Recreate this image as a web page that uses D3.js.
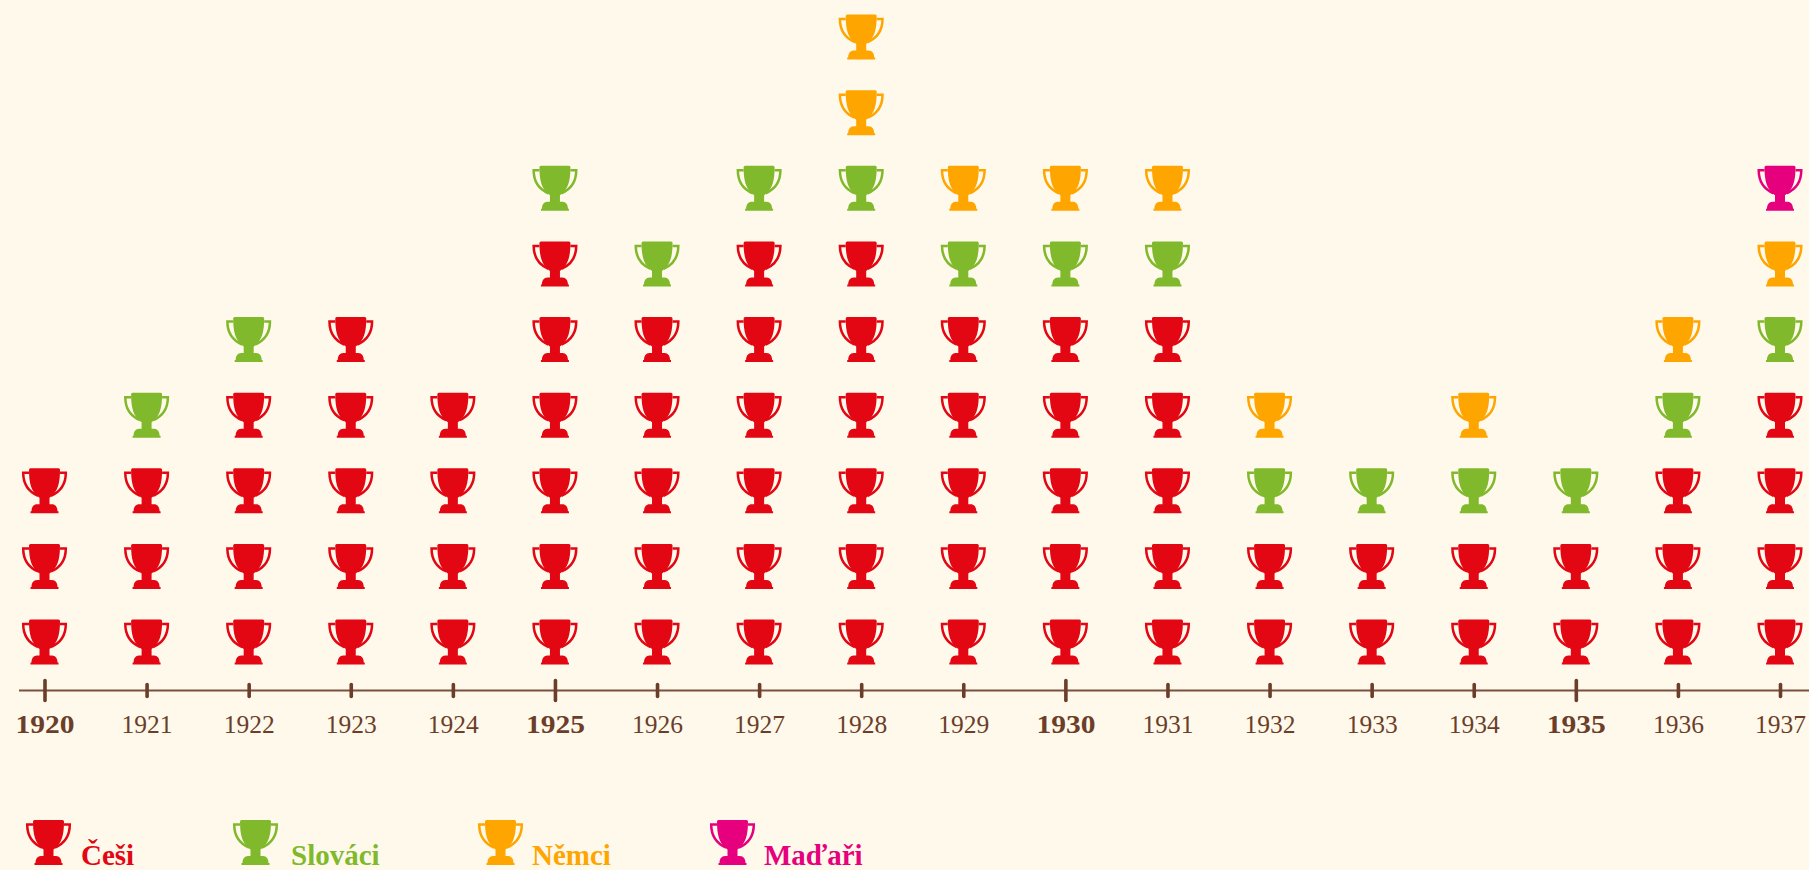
<!DOCTYPE html>
<html lang="cs">
<head>
<meta charset="utf-8">
<title>Poháry</title>
<script src="https://cdn.jsdelivr.net/npm/d3@7"></script>
<style>
  html, body { margin: 0; padding: 0; background: #fff9eb; overflow: hidden; }
  svg { display: block; }
  text { font-family: "Liberation Serif", serif; }
</style>
</head>
<body>
<div id="chart"></div>
<script>
var years   = [1920,1921,1922,1923,1924,1925,1926,1927,1928,1929,1930,1931,1932,1933,1934,1935,1936,1937];
var cesi    = [3,3,4,5,4,6,5,6,6,5,5,5,2,2,2,2,3,4];
var slovaci = [0,1,1,0,0,1,1,1,1,1,1,1,1,1,1,1,1,1];
var nemci   = [0,0,0,0,0,0,0,0,2,1,1,1,1,0,1,0,1,1];
var madari  = [0,0,0,0,0,0,0,0,0,0,0,0,0,0,0,0,0,1];

var groupNames  = ['Češi','Slováci','Němci','Maďaři'];
var groupValues = [cesi, slovaci, nemci, madari];
var groupColors = ['#e30613','#80b92b','#ffa500','#e6007e'];

var width = 1809;
var height = 870;
var brown = '#6b3e2a';
var cup = 45;

var x = d3.scaleLinear().domain([1920, 1937]).range([44.5, 1780]);
var y = d3.scaleLinear().domain([0, 8]).range([642, 37]);

var svg = d3.select('#chart')
    .append('svg')
    .attr('width', width)
    .attr('height', height);

// trophy, drawn in a 45 x 45 box
var trophy = svg.append('defs').append('symbol')
    .attr('id', 'trophy')
    .attr('viewBox', '0 0 45 45')
    .attr('overflow', 'visible');
trophy.append('path')
    .attr('d', 'M8.5 0H36.5Q38 0 38 1.5C38 14 36 24 27.5 29.5V36H30C33.5 36 35.5 39 35.5 43H36.5V45H8.5V43H9.5C9.5 39 11.5 36 15 36H17.5V29.5C9 24 7 14 7 1.5Q7 0 8.5 0Z')
    .attr('fill', 'currentColor');
trophy.append('path')
    .attr('d', 'M7 4.5H1.2C1.2 15 5.5 23 16 27.5M38 4.5H43.8C43.8 15 39.5 23 29 27.5')
    .attr('fill', 'none')
    .attr('stroke', 'currentColor')
    .attr('stroke-width', 2.5);

// stack of cups per year
var stacks = [];
years.forEach(function(year, i) {
  var level = 0;
  groupValues.forEach(function(values, g) {
    d3.range(values[i]).forEach(function() {
      stacks.push({ year: year, level: level, color: groupColors[g] });
      level += 1;
    });
  });
});

svg.append('g')
    .selectAll('use')
    .data(stacks)
    .enter()
    .append('use')
    .attr('href', '#trophy')
    .attr('width', cup)
    .attr('height', cup)
    .attr('x', function(d) { return x(d.year) - cup / 2; })
    .attr('y', function(d) { return y(d.level) - cup / 2; })
    .style('color', function(d) { return d.color; });

// axis
var axis = d3.axisBottom(x)
    .tickValues(years)
    .tickFormat(d3.format('d'))
    .tickSize(0)
    .tickPadding(24.5);

var axisG = svg.append('g')
    .attr('transform', 'translate(0, 690.5)')
    .call(axis);

axisG.select('.domain').remove();
axisG.append('line')
    .attr('x1', 19)
    .attr('x2', width)
    .attr('stroke', brown)
    .attr('stroke-opacity', 0.9)
    .attr('stroke-width', 2);

axisG.selectAll('.tick line')
    .attr('y1', function(d) { return d % 5 === 0 ? -10 : -6; })
    .attr('y2', function(d) { return d % 5 === 0 ? 10 : 6; })
    .attr('stroke', brown)
    .attr('stroke-width', 3.6)
    .attr('stroke-linecap', 'round');

axisG.selectAll('.tick text')
    .attr('fill', brown)
    .attr('font-family', '"Liberation Serif", serif')
    .attr('font-size', 25.5)
    .attr('font-weight', function(d) { return d % 5 === 0 ? 700 : 400; })
    .filter(function(d) { return d % 5 === 0; })
    .attr('textLength', 59)
    .attr('lengthAdjust', 'spacingAndGlyphs');

// legend
var legendIcon = [26, 233, 478, 710];
var legendText = [81, 291, 532, 764];

var legend = svg.append('g')
    .selectAll('g')
    .data(groupNames)
    .enter()
    .append('g')
    .style('color', function(d, i) { return groupColors[i]; });

legend.append('use')
    .attr('href', '#trophy')
    .attr('width', cup)
    .attr('height', cup)
    .attr('x', function(d, i) { return legendIcon[i]; })
    .attr('y', 820);

legend.append('text')
    .attr('x', function(d, i) { return legendText[i]; })
    .attr('y', 865)
    .attr('fill', 'currentColor')
    .attr('font-size', 29)
    .attr('font-weight', 700)
    .text(function(d) { return d; });
</script>
</body>
</html>
